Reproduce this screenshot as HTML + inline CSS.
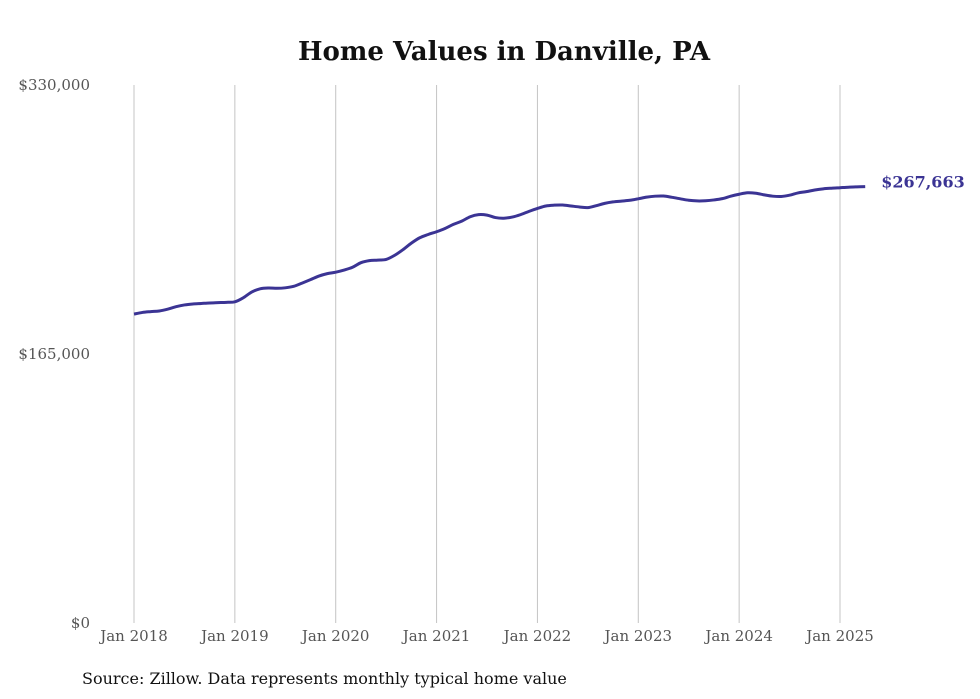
<!DOCTYPE html>
<html><head><meta charset="utf-8"><style>
body{margin:0;background:#fff;}
svg{display:block;font-family:"DejaVu Serif","Liberation Serif",serif;}
</style></head><body>
<svg id="chart" width="980" height="699" viewBox="0 0 980 699">
<text x="504" y="60" text-anchor="middle" font-size="26" font-weight="bold" fill="#111">Home Values in Danville, PA</text>
<g id="grid"></g>
<g id="yaxis"></g>
<g id="xaxis"></g>
<path id="line" fill="none" stroke="#3b3494" stroke-width="3" stroke-linejoin="round"/>
<text id="endlabel" font-size="16" font-weight="bold" fill="#3b3494"></text>
<text x="82" y="684" font-size="16" fill="#111">Source: Zillow. Data represents monthly typical home value</text>
</svg>
<script>
const values = [189.5,190.5,191,191.4,192.5,194,195.1,195.7,196,196.3,196.5,196.7,
197,199.5,203,205,205.5,205.3,205.6,206.5,208.5,210.6,212.8,214.3,
215.2,216.5,218.2,221,222.3,222.6,223,225.5,229,233,236.3,238.3,
240,242,244.5,246.5,249.2,250.5,250.2,248.7,248.3,249,250.5,252.5,
254.3,255.8,256.3,256.4,255.8,255.2,254.8,256,257.4,258.3,258.8,259.3,
260.2,261.2,261.8,261.9,261.1,260.2,259.3,258.9,259,259.5,260.3,261.8,
263,263.9,263.6,262.6,261.8,261.6,262.4,263.8,264.6,265.6,266.3,266.7,
267.0,267.3,267.5,267.663];
const yTicks = [0,165000,330000];
const yTickLabels = ["$0","$165,000","$330,000"];
const xTickLabels = ["Jan 2018","Jan 2019","Jan 2020","Jan 2021","Jan 2022","Jan 2023","Jan 2024","Jan 2025"];
const lastLabel = "$267,663";
const NS="http://www.w3.org/2000/svg";
const x = m => 134 + m*(706/84);
const y = v => 623 - v/330000*538;
const grid=document.getElementById('grid'), ya=document.getElementById('yaxis'), xa=document.getElementById('xaxis');
xTickLabels.forEach((t,i)=>{
  const l=document.createElementNS(NS,'line');
  
  
  l.setAttribute('x1',x(i*12));l.setAttribute('x2',x(i*12));l.setAttribute('y1',85);l.setAttribute('y2',623);
  l.setAttribute('stroke','#c4c4c4');l.setAttribute('stroke-width','1');
  grid.appendChild(l);
  const tx=document.createElementNS(NS,'text');
  
  
  tx.setAttribute('x',x(i*12));tx.setAttribute('y',641);tx.setAttribute('text-anchor','middle');
  tx.setAttribute('font-size','15');tx.setAttribute('fill','#555');
  tx.textContent=t; xa.appendChild(tx);
});
yTicks.forEach((v,i)=>{
  const tx=document.createElementNS(NS,'text');
  
  
  tx.setAttribute('x',90);tx.setAttribute('y',y(v)+5);tx.setAttribute('text-anchor','end');
  tx.setAttribute('font-size','15');tx.setAttribute('fill','#555');
  tx.textContent=yTickLabels[i]; ya.appendChild(tx);
});
const pts=values.map((v,i)=>[x(i),y(v*1000)]);
let d='M'+pts[0][0]+','+pts[0][1];
for(let i=1;i<pts.length;i++){
  const p0=pts[i-2]||pts[i-1],p1=pts[i-1],p2=pts[i],p3=pts[i+1]||p2;
  const c1x=p1[0]+(p2[0]-p0[0])/6,c1y=p1[1]+(p2[1]-p0[1])/6;
  const c2x=p2[0]-(p3[0]-p1[0])/6,c2y=p2[1]-(p3[1]-p1[1])/6;
  d+=` C${c1x},${c1y} ${c2x},${c2y} ${p2[0]},${p2[1]}`;
}
document.getElementById('line').setAttribute('d',d);
const last=pts[pts.length-1];
const el=document.getElementById('endlabel');
el.setAttribute('x',last[0]+16);el.setAttribute('y',last[1]+1);
el.textContent=lastLabel;
</script>
</body></html>
